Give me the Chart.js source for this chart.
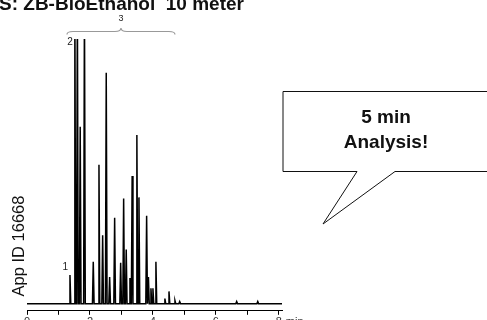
<!DOCTYPE html>
<html>
<head>
<meta charset="utf-8">
<script src="https://cdn.jsdelivr.net/npm/chart.js@4"></script>
<style>
  html, body { margin: 0; padding: 0; background: #fff; overflow: hidden; }
  #wrap { position: relative; width: 487px; height: 320px; overflow: hidden; }
  canvas { display: block; }
</style>
</head>
<body>
<div id="wrap"><canvas id="chrom" width="487" height="330"></canvas></div>
<script>
// Peaks (retention time in min, height in detector units)
const peakTimes   = [1.365, 1.52, 1.60, 1.69, 1.825, 2.105, 2.286, 2.403, 2.517, 2.625, 2.784, 2.975, 3.07, 3.152, 3.27, 3.34, 3.49, 3.556, 3.80, 3.857, 3.937, 4.0, 4.095, 4.38, 4.51, 4.70, 4.85, 6.66, 7.33];
const peakHeights = [28, 300, 300, 173, 300, 41, 136, 67, 226, 26, 84, 40, 103, 53, 25, 125, 165, 104, 86, 26, 15, 15, 41, 5, 12, 3, 2, 2, 2];
const runStart = 0;
const runEnd = 8.1;
const xTickLabels = ['0', '2', '4', '6', '8'];
const peakLabels = ['1', '2'];       // labels on peak index 0 and 1
const peakLabelIdx = [0, 1];
const groupLabel = '3';
const groupRange = [1.27, 4.7];     // min, bracket over the rest
const titleText = 'S: ZB-BioEthanol  10 meter';
const sideText = 'App ID 16668';
const bubbleLines = ['5 min', 'Analysis!'];

const FONT = "'Liberation Sans', Arial, Helvetica, sans-serif";

// build the trace: baseline with a narrow spike at every peak
const halfWidth = 0.026;
const trace = [{ x: runStart, y: 0 }];
peakTimes.forEach((t, i) => {
  const prev = i > 0 ? peakTimes[i - 1] : -Infinity;
  const next = i < peakTimes.length - 1 ? peakTimes[i + 1] : Infinity;
  const left = Math.max(t - halfWidth, (prev + t) / 2);
  const right = Math.min(t + halfWidth, (t + next) / 2);
  trace.push({ x: left, y: 0 }, { x: t, y: peakHeights[i] }, { x: right, y: 0 });
});
trace.push({ x: runEnd, y: 0 });

const decorations = {
  id: 'decorations',
  afterDraw(chart) {
    const ctx = chart.ctx;
    const xs = chart.scales.x;
    const ys = chart.scales.y;
    const area = chart.chartArea;
    ctx.save();

    // title (cut at top edge like the original)
    ctx.fillStyle = '#111';
    ctx.font = 'bold 19px ' + FONT;
    ctx.textAlign = 'left';
    ctx.textBaseline = 'alphabetic';
    ctx.fillText(titleText, -1, 9.5);

    // peak labels
    ctx.font = '10px ' + FONT;
    ctx.fillStyle = '#222';
    ctx.textAlign = 'right';
    peakLabelIdx.forEach((pi, k) => {
      const px = xs.getPixelForValue(peakTimes[pi]);
      const py = ys.getPixelForValue(peakHeights[pi]);
      const y = py < area.top ? area.top + 6 : py - 5;
      ctx.fillText(peakLabels[k], px - 2, y);
    });

    // bracket over group 3
    const bx0 = xs.getPixelForValue(groupRange[0]);
    const bx1 = xs.getPixelForValue(groupRange[1]);
    const bc = (bx0 + bx1) / 2;
    const by = 31.5;
    ctx.strokeStyle = '#999';
    ctx.lineWidth = 1.2;
    ctx.beginPath();
    ctx.moveTo(bx0, by + 3);
    ctx.quadraticCurveTo(bx0, by, bx0 + 6, by);
    ctx.lineTo(bc - 6, by);
    ctx.quadraticCurveTo(bc, by, bc, by - 3.5);
    ctx.quadraticCurveTo(bc, by, bc + 6, by);
    ctx.lineTo(bx1 - 6, by);
    ctx.quadraticCurveTo(bx1, by, bx1, by + 3);
    ctx.stroke();
    ctx.textAlign = 'center';
    ctx.font = '9px ' + FONT;
    ctx.fillText(groupLabel, bc, 21);

    // unit label after last tick
    ctx.font = '11px ' + FONT;
    ctx.textAlign = 'left';
    ctx.fillStyle = '#333';
    ctx.textBaseline = 'top';
    ctx.fillText('min', xs.getPixelForValue(8) + 7, xs.top + 6);

    // vertical side text
    ctx.save();
    ctx.translate(23.5, 246);
    ctx.rotate(-Math.PI / 2);
    ctx.font = '16.5px ' + FONT;
    ctx.fillStyle = '#111';
    ctx.textAlign = 'center';
    ctx.textBaseline = 'alphabetic';
    ctx.fillText(sideText, 0, 0);
    ctx.restore();

    // speech bubble
    ctx.beginPath();
    ctx.moveTo(283, 91.5);
    ctx.lineTo(492, 91.5);
    ctx.lineTo(492, 171.5);
    ctx.lineTo(395, 171.5);
    ctx.lineTo(323, 224);
    ctx.lineTo(357, 171.5);
    ctx.lineTo(283, 171.5);
    ctx.closePath();
    ctx.fillStyle = '#fff';
    ctx.fill();
    ctx.strokeStyle = '#111';
    ctx.lineWidth = 1;
    ctx.stroke();
    ctx.fillStyle = '#111';
    ctx.font = 'bold 19px ' + FONT;
    ctx.textAlign = 'center';
    ctx.textBaseline = 'alphabetic';
    ctx.fillText(bubbleLines[0], 386, 123);
    ctx.fillText(bubbleLines[1], 386, 148);

    ctx.restore();
  }
};

new Chart(document.getElementById('chrom'), {
  type: 'line',
  data: {
    datasets: [{
      data: trace,
      borderColor: '#000',
      borderWidth: 1.5,
      pointRadius: 0,
      tension: 0,
      fill: false
    }]
  },
  options: {
    responsive: false,
    animation: false,
    layout: { padding: { left: 27, right: 205, top: 39, bottom: 0 } },
    plugins: { legend: { display: false }, tooltip: { enabled: false } },
    scales: {
      x: {
        type: 'linear',
        min: runStart,
        max: runEnd,
        border: { display: true, color: '#000', width: 1 },
        grid: { drawOnChartArea: false, drawTicks: true, tickLength: 4, color: '#000' },
        ticks: {
          stepSize: 1,
          includeBounds: false,
          autoSkip: false,
          maxRotation: 0,
          padding: 1,
          color: '#333',
          font: { family: FONT, size: 11 },
          callback: (v) => (v % 2 === 0 ? xTickLabels[v / 2] : '')
        }
      },
      y: { display: false, min: -7, max: 259 }
    }
  },
  plugins: [decorations]
});
</script>
</body>
</html>
